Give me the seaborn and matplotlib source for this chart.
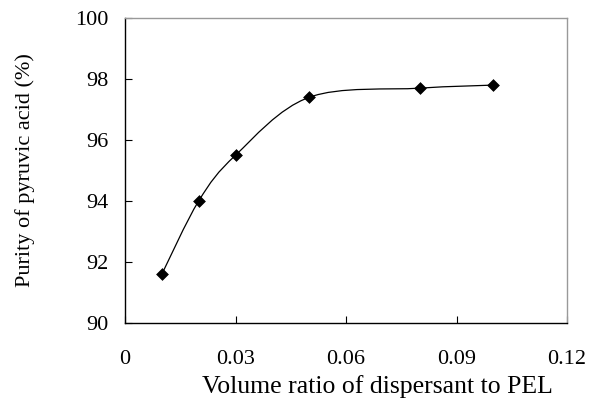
import numpy as np
import matplotlib
matplotlib.use("Agg")
import matplotlib.pyplot as plt
import seaborn as sns
from matplotlib.path import Path
from matplotlib.patches import PathPatch

ratio = [0.01, 0.02, 0.03, 0.05, 0.08, 0.10]
purity = [91.6, 94.0, 95.5, 97.4, 97.7, 97.8]
x_ticks = [0, 0.03, 0.06, 0.09, 0.12]
x_tick_labels = ["0", "0.03", "0.06", "0.09", "0.12"]
y_ticks = [90, 92, 94, 96, 98, 100]

sns.set_theme(style="white")
plt.rcParams['font.family'] = ['Liberation Serif', 'DejaVu Serif']

fig = plt.figure(figsize=(5.97, 4.0), dpi=100)
ax = fig.add_axes([125/597, 1 - 323/400, (567-125)/597, (323-18)/400])

# Smoothed connecting line (Bezier through the data points, like a spreadsheet "smoothed line")
P = np.column_stack([ratio, purity]).astype(float)
verts = [tuple(P[0])]
codes = [Path.MOVETO]
n = len(P)
for i in range(n - 1):
    p0 = P[i - 1] if i > 0 else P[i]
    p1 = P[i]
    p2 = P[i + 1]
    p3 = P[i + 2] if i + 2 < n else P[i + 1]
    c1 = p1 + (p2 - p0) / 6.0
    c2 = p2 - (p3 - p1) / 6.0
    verts += [tuple(c1), tuple(c2), tuple(p2)]
    codes += [Path.CURVE4] * 3
ax.add_patch(PathPatch(Path(verts, codes), fill=False, edgecolor="black", lw=0.9, zorder=2))

sns.scatterplot(x=ratio, y=purity, marker="D", color="black", s=36, edgecolor="black",
                linewidth=0.5, ax=ax, zorder=3)

ax.set_xlim(0, 0.12)
ax.set_ylim(90, 100)
ax.set_xticks(x_ticks)
ax.set_xticklabels(x_tick_labels)
ax.set_yticks(y_ticks)
ax.tick_params(axis="both", direction="in", length=5, width=0.8, colors="black",
               labelsize=16, bottom=True, left=True)
ax.tick_params(axis="x", pad=19.5)
ax.tick_params(axis="y", pad=12)
for s in ["left", "bottom"]:
    ax.spines[s].set_color("black")
    ax.spines[s].set_linewidth(1.0)
for s in ["top", "right"]:
    ax.spines[s].set_color("#999999")
    ax.spines[s].set_linewidth(1.0)
ax.set_xlabel("Volume ratio of dispersant to PEL", fontsize=18.5, color="black")
ax.xaxis.set_label_coords(0.572, -0.172)
ax.set_ylabel("Purity of pyruvic acid (%)", fontsize=16, labelpad=29, color="black")

fig.savefig("out.png", dpi=100, facecolor="white")
